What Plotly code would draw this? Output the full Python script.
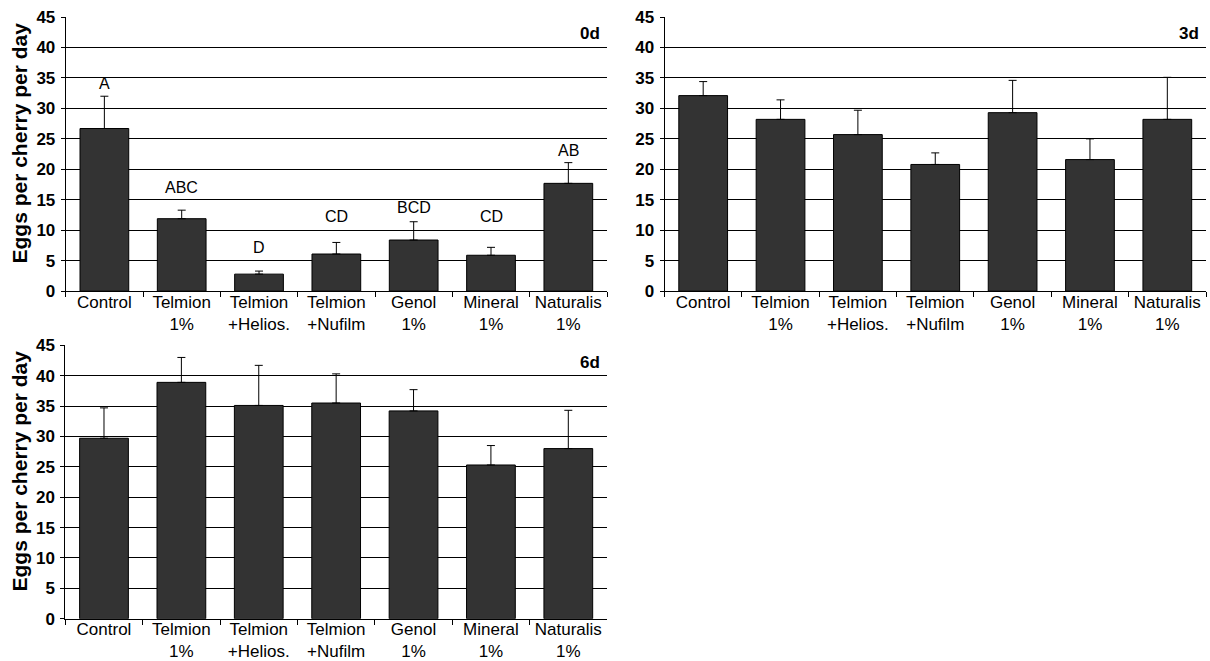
import plotly.graph_objects as go

categories = ["Control", "Telmion<br>1%", "Telmion<br>+Helios.", "Telmion<br>+Nufilm",
              "Genol<br>1%", "Mineral<br>1%", "Naturalis<br>1%"]

mean_0d = [26.7, 11.9, 2.8, 6.1, 8.4, 5.9, 17.7]
se_0d = [5.3, 1.4, 0.5, 1.9, 3.0, 1.3, 3.4]
letters_0d = ["A", "ABC", "D", "CD", "BCD", "CD", "AB"]
letter_y_0d = [32.3, 15.3, 5.4, 10.6, 12.0, 10.6, 21.3]

mean_3d = [32.1, 28.2, 25.7, 20.8, 29.3, 21.6, 28.2]
se_3d = [2.3, 3.2, 4.0, 1.9, 5.3, 3.4, 6.9]

mean_6d = [29.7, 38.9, 35.1, 35.5, 34.2, 25.3, 28.0]
se_6d = [5.0, 4.1, 6.6, 4.8, 3.5, 3.2, 6.3]

panel_labels = ["0d", "3d", "6d"]
y_ticks = list(range(0, 50, 5))
y_title = "Eggs per cherry per day"

W, H = 1210, 661
FONT = "Liberation Sans, Arial, sans-serif"

def px_x(p):
    return p / W

def px_y(p):
    return 1 - p / H

panels = [
    dict(mean=mean_0d, se=se_0d, xd=[px_x(65.7), px_x(607)], yd=[px_y(291.2), px_y(16.7)], title_c=143.5),
    dict(mean=mean_3d, se=se_3d, xd=[px_x(664.5), px_x(1206)], yd=[px_y(291.2), px_y(16.7)], title_c=None),
    dict(mean=mean_6d, se=se_6d, xd=[px_x(65.3), px_x(607)], yd=[px_y(618.7), px_y(345)], title_c=471.5),
]

fig = go.Figure()
annotations = []
for i, p in enumerate(panels):
    sfx = "" if i == 0 else str(i + 1)
    fig.add_trace(go.Bar(
        x=categories, y=p["mean"],
        xaxis="x" + sfx, yaxis="y" + sfx,
        marker=dict(color="#333333", line=dict(color="#000000", width=1)),
        error_y=dict(type="data", symmetric=False, array=p["se"],
                     arrayminus=[0] * len(p["se"]),
                     color="#000000", thickness=1, width=4),
        width=0.63, showlegend=False, hoverinfo="skip",
    ))
    fig.layout["xaxis" + sfx] = dict(
        domain=p["xd"], anchor="y" + sfx, type="category", automargin=False,
        showline=True, linecolor="#000000", linewidth=1,
        ticks="outside", tickson="boundaries", ticklen=5, tickcolor="#000000",
        showgrid=False, tickfont=dict(family=FONT, size=17, color="#000000"),
        ticklabelstandoff=-5,
        range=[-0.5, 6.5], fixedrange=True,
    )
    fig.layout["yaxis" + sfx] = dict(
        domain=p["yd"], anchor="x" + sfx, range=[0, 45.05], automargin=False,
        tickvals=y_ticks, ticks="outside", ticklen=4, tickcolor="#000000",
        showline=True, linecolor="#000000", linewidth=1,
        showgrid=True, gridcolor="#000000", gridwidth=1, zeroline=False,
        tickfont=dict(family=FONT, size=17, color="#000000", weight="bold"),
        ticklabelstandoff=2, fixedrange=True,
    )
    # panel label
    annotations.append(dict(
        text="<b>" + panel_labels[i] + "</b>", xref="x" + sfx + " domain", yref="y" + sfx + " domain",
        x=0.991, y=0.937, xanchor="right", yanchor="middle", showarrow=False,
        font=dict(family=FONT, size=17, color="#000000"),
    ))
    if p["title_c"] is not None:
        annotations.append(dict(
            text="<b>" + y_title + "</b>", xref="paper", yref="paper",
            x=px_x(19), y=px_y(p["title_c"]), xanchor="center", yanchor="middle",
            textangle=-90, showarrow=False,
            font=dict(family=FONT, size=21, color="#000000"),
        ))

for cat, lab, ly in zip(categories, letters_0d, letter_y_0d):
    annotations.append(dict(
        text=lab, x=cat, y=ly, xref="x", yref="y", xanchor="center", yanchor="bottom",
        showarrow=False, font=dict(family=FONT, size=16, color="#000000"),
    ))

fig.update_layout(
    template="none",
    width=W, height=H, autosize=False,
    margin=dict(l=0, r=0, t=0, b=0, pad=0),
    paper_bgcolor="#ffffff", plot_bgcolor="#ffffff",
    bargap=0.37, annotations=annotations,
    font=dict(family=FONT, color="#000000"),
)

fig.write_html("out.html", config={"displayModeBar": False},
               post_script="document.body.style.margin='0';")
